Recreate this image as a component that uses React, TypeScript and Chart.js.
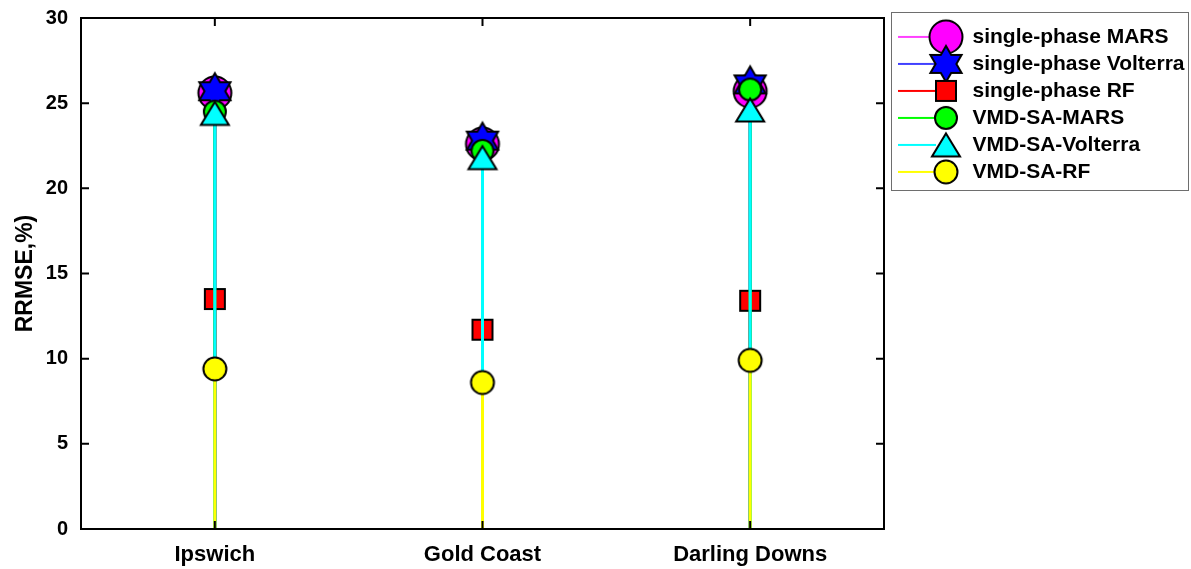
import React, { useEffect, useRef } from 'react';
import { Chart, registerables } from 'chart.js';

Chart.register(...registerables);

// ---------- data ----------
const categories = ['Ipswich', 'Gold Coast', 'Darling Downs'];
const categoryPositions = [1, 2, 3];
const seriesNames = [
  'single-phase MARS',
  'single-phase Volterra',
  'single-phase RF',
  'VMD-SA-MARS',
  'VMD-SA-Volterra',
  'VMD-SA-RF',
];
const singleMars = [25.6, 22.6, 25.7];
const singleVolterra = [25.7, 22.8, 26.1];
const singleRf = [13.5, 11.7, 13.4];
const vmdMars = [24.5, 22.2, 25.8];
const vmdVolterra = [24.4, 21.8, 24.6];
const vmdRf = [9.4, 8.6, 9.9];
const yTickValues = [0, 5, 10, 15, 20, 25, 30];

const seriesValues = [singleMars, singleVolterra, singleRf, vmdMars, vmdVolterra, vmdRf];

// ---------- styles ----------
const FONT = '"Liberation Sans", Arial, Helvetica, sans-serif';
const colors = ['#ff00ff', '#0000ff', '#ff0000', '#00ff00', '#00ffff', '#ffff00'];
type Kind = 'circle' | 'hexagram' | 'square' | 'triangle';
const kinds: Kind[] = ['circle', 'hexagram', 'square', 'circle', 'triangle', 'circle'];
const markerSizes = [16.5, 18, 10, 11, 14, 11.5];
const legendLineWidths = [1.5, 1.5, 2, 2, 2, 2];

function pathMarker(ctx: CanvasRenderingContext2D, kind: Kind, cx: number, cy: number, s: number) {
  ctx.beginPath();
  if (kind === 'circle') {
    ctx.arc(cx, cy, s, 0, Math.PI * 2);
  } else if (kind === 'square') {
    ctx.rect(cx - s, cy - s, 2 * s, 2 * s);
  } else if (kind === 'triangle') {
    const h = s * 0.82;
    ctx.moveTo(cx, cy - h);
    ctx.lineTo(cx + s, cy + h);
    ctx.lineTo(cx - s, cy + h);
    ctx.closePath();
  } else {
    const inner = s / Math.sqrt(3);
    for (let i = 0; i < 12; i++) {
      const a = -Math.PI / 2 + (i * Math.PI) / 6;
      const r = i % 2 === 0 ? s : inner;
      const px = cx + r * Math.cos(a);
      const py = cy + r * Math.sin(a);
      if (i === 0) ctx.moveTo(px, py);
      else ctx.lineTo(px, py);
    }
    ctx.closePath();
  }
}

function drawMarker(ctx: CanvasRenderingContext2D, i: number, cx: number, cy: number) {
  pathMarker(ctx, kinds[i], cx, cy, markerSizes[i]);
  ctx.fillStyle = colors[i];
  ctx.fill();
  ctx.lineWidth = 2;
  ctx.lineJoin = 'miter';
  ctx.strokeStyle = '#000';
  ctx.stroke();
}

function makeMarkerCanvas(i: number): HTMLCanvasElement {
  const c = document.createElement('canvas');
  c.width = 44;
  c.height = 44;
  const ctx = c.getContext('2d')!;
  drawMarker(ctx, i, 22, 22);
  return c;
}

function makeLegendCanvas(i: number): HTMLCanvasElement {
  const c = document.createElement('canvas');
  c.width = 80;
  c.height = 44;
  const ctx = c.getContext('2d')!;
  ctx.beginPath();
  ctx.moveTo(12, 22);
  ctx.lineTo(50, 22);
  ctx.strokeStyle = colors[i];
  ctx.lineWidth = legendLineWidths[i];
  ctx.stroke();
  drawMarker(ctx, i, 60, 22);
  return c;
}

const framePlugin = {
  id: 'matlabFrame',
  afterDatasetsDraw(chart: any) {
    const { ctx, chartArea: a, scales } = chart;
    const xs = scales.x;
    const ys = scales.y;
    ctx.save();
    ctx.strokeStyle = '#000';
    ctx.lineWidth = 2;
    ctx.strokeRect(a.left, a.top, a.right - a.left, a.bottom - a.top);
    ctx.beginPath();
    ys.ticks.forEach((t: any) => {
      const py = ys.getPixelForValue(t.value);
      ctx.moveTo(a.left, py);
      ctx.lineTo(a.left + 8, py);
      ctx.moveTo(a.right, py);
      ctx.lineTo(a.right - 8, py);
    });
    xs.ticks.forEach((t: any) => {
      const px = xs.getPixelForValue(t.value);
      ctx.moveTo(px, a.bottom);
      ctx.lineTo(px, a.bottom - 8);
      ctx.moveTo(px, a.top);
      ctx.lineTo(px, a.top + 8);
    });
    ctx.stroke();
    const lg = chart.legend;
    if (lg) {
      ctx.lineWidth = 1;
      ctx.strokeStyle = '#6e6e6e';
      ctx.strokeRect(lg.left + 7.5, lg.top - 5.5, lg.right - lg.left - 9, 178);
    }
    ctx.restore();
  },
};

export default function App() {
  const canvasRef = useRef<HTMLCanvasElement | null>(null);

  useEffect(() => {
    if (!canvasRef.current) return;
    const markerImgs = seriesNames.map((_, i) => makeMarkerCanvas(i));
    const legendImgs = seriesNames.map((_, i) => makeLegendCanvas(i));

    const datasets = seriesNames.map((name, i) => {
      const data: any[] = [];
      seriesValues[i].forEach((v, k) => {
        data.push({ x: categoryPositions[k], y: 0 });
        data.push({ x: categoryPositions[k], y: v });
        data.push({ x: categoryPositions[k], y: null });
      });
      return {
        label: name,
        data,
        borderColor: colors[i],
        backgroundColor: colors[i],
        borderWidth: 3,
        pointStyle: markerImgs[i],
        pointRadius: (c: any) => (c.raw && c.raw.y ? 6 : 0),
        pointHoverRadius: (c: any) => (c.raw && c.raw.y ? 6 : 0),
        spanGaps: false,
        tension: 0,
        order: seriesNames.length - i,
      };
    });

    const chart = new Chart(canvasRef.current, {
      type: 'line',
      data: { datasets },
      options: {
        responsive: false,
        animation: false,
        devicePixelRatio: 1,
        events: [],
        layout: { padding: { top: 18, right: 1, left: 0, bottom: 0 } },
        scales: {
          x: {
            type: 'linear',
            min: 0.5,
            max: 3.5,
            grid: { display: false, drawTicks: false },
            border: { display: false },
            afterBuildTicks: (s: any) => {
              s.ticks = categoryPositions.map((v) => ({ value: v }));
            },
            afterFit: (s: any) => {
              s.height = 40;
              s.paddingLeft = 0;
              s.paddingRight = 0;
            },
            ticks: {
              autoSkip: false,
              maxRotation: 0,
              padding: 13,
              color: '#000',
              font: { family: FONT, size: 22, weight: 'bold' },
              callback: (v: any) => categories[categoryPositions.indexOf(Number(v))] ?? '',
            },
          },
          y: {
            type: 'linear',
            min: 0,
            max: 30,
            grid: { display: false, drawTicks: false },
            border: { display: false },
            afterBuildTicks: (s: any) => {
              s.ticks = yTickValues.map((v) => ({ value: v }));
            },
            afterFit: (s: any) => {
              s.width = 81;
              s.paddingTop = 12;
              s.paddingBottom = 12;
            },
            ticks: {
              padding: 13,
              color: '#000',
              font: { family: FONT, size: 20, weight: 'bold' },
            },
            title: {
              display: true,
              text: 'RRMSE,%)',
              color: '#000',
              padding: { top: 12, bottom: 0 },
              font: { family: FONT, size: 23, weight: 'bold' },
            },
          },
        },
        plugins: {
          tooltip: { enabled: false },
          legend: {
            display: true,
            position: 'right',
            align: 'start',
            maxWidth: 306,
            title: { display: true, text: '', padding: 0, font: { size: 2 } },
            labels: {
              usePointStyle: true,
              pointStyleWidth: 72,
              padding: 6,
              color: '#000',
              font: { family: FONT, size: 21, weight: 'bold' },
              generateLabels: () =>
                seriesNames.map((name, i) => ({
                  text: name,
                  pointStyle: legendImgs[i],
                  datasetIndex: i,
                  hidden: false,
                  lineWidth: 0,
                  fillStyle: 'transparent',
                  strokeStyle: 'transparent',
                  fontColor: '#000',
                })),
            },
          },
        },
      } as any,
      plugins: [framePlugin],
    });
    return () => chart.destroy();
  }, []);

  return (
    <div style={{ position: 'fixed', left: 0, top: 0, width: 1191, height: 569, background: '#fff' }}>
      <canvas ref={canvasRef} width={1191} height={569} style={{ display: 'block' }} />
    </div>
  );
}
